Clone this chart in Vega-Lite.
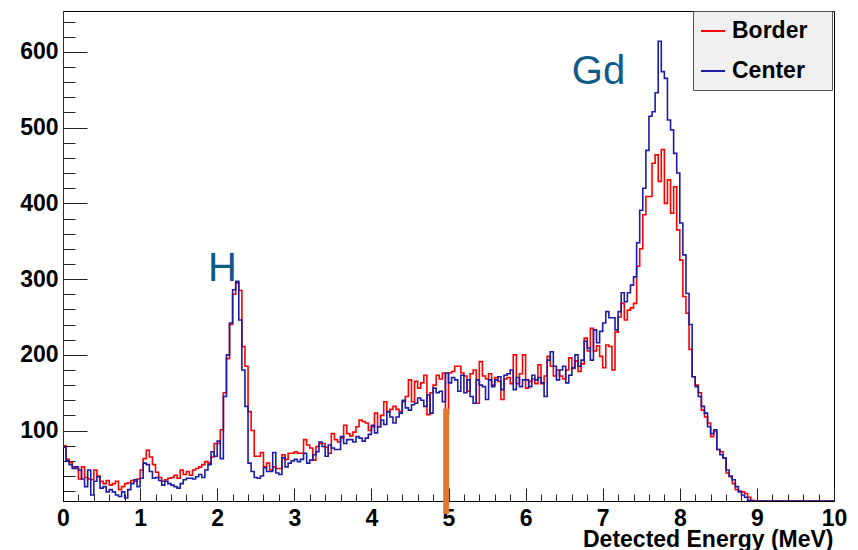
{
"$schema":"https://vega.github.io/schema/vega-lite/v6.json",
"width":771,"height":490,
"autosize":{"type":"none"},
"padding":{"left":63,"top":11,"right":24,"bottom":49},
"background":"#ffffff",
"config":{"view":{"stroke":"#000000","strokeWidth":1},
"axis":{"grid":false,"domainColor":"#000000","domainWidth":1,"tickColor":"#222222","tickWidth":1,"labelFont":"Liberation Sans","labelFontWeight":"bold","labelFontSize":23,"labelColor":"#000000","labelFlush":false}},
"layer":[
{"data":{"values":[
{"x":-0.04,"Border":5000,"Center":5000},{"x":0,"Border":80,"Center":78},{"x":0.04,"Border":62,"Center":60},{"x":0.08,"Border":58,"Center":55},{"x":0.12,"Border":52,"Center":50},{"x":0.16,"Border":50,"Center":52},{"x":0.2,"Border":36,"Center":48},{"x":0.24,"Border":52,"Center":36},{"x":0.28,"Border":38,"Center":26},{"x":0.32,"Border":36,"Center":48},{"x":0.36,"Border":35,"Center":15},{"x":0.4,"Border":48,"Center":33},{"x":0.44,"Border":40,"Center":39},{"x":0.48,"Border":33,"Center":24},{"x":0.52,"Border":30,"Center":26},{"x":0.56,"Border":34,"Center":19},{"x":0.6,"Border":28,"Center":22},{"x":0.64,"Border":30,"Center":19},{"x":0.68,"Border":33,"Center":15},{"x":0.72,"Border":22,"Center":13},{"x":0.76,"Border":26,"Center":19},{"x":0.8,"Border":30,"Center":11},{"x":0.84,"Border":31,"Center":22},{"x":0.88,"Border":34,"Center":30},{"x":0.92,"Border":33,"Center":35},{"x":0.96,"Border":36,"Center":26},
{"x":1,"Border":48,"Center":37},{"x":1.04,"Border":63,"Center":57},{"x":1.08,"Border":74,"Center":55},{"x":1.12,"Border":65,"Center":46},{"x":1.16,"Border":55,"Center":37},{"x":1.2,"Border":45,"Center":38},{"x":1.24,"Border":38,"Center":34},{"x":1.28,"Border":33,"Center":28},{"x":1.32,"Border":35,"Center":33},{"x":1.36,"Border":37,"Center":30},{"x":1.4,"Border":38,"Center":28},{"x":1.44,"Border":41,"Center":26},{"x":1.48,"Border":37,"Center":24},{"x":1.52,"Border":48,"Center":30},{"x":1.56,"Border":42,"Center":35},{"x":1.6,"Border":46,"Center":37},{"x":1.64,"Border":41,"Center":37},{"x":1.68,"Border":48,"Center":36},{"x":1.72,"Border":50,"Center":39},{"x":1.76,"Border":52,"Center":42},{"x":1.8,"Border":55,"Center":38},{"x":1.84,"Border":59,"Center":48},{"x":1.88,"Border":57,"Center":55},{"x":1.92,"Border":65,"Center":72},{"x":1.96,"Border":83,"Center":66},
{"x":2,"Border":83,"Center":86},{"x":2.04,"Border":101,"Center":63},{"x":2.08,"Border":150,"Center":145},{"x":2.12,"Border":195,"Center":200},{"x":2.16,"Border":240,"Center":242},{"x":2.2,"Border":280,"Center":286},{"x":2.24,"Border":295,"Center":297},{"x":2.28,"Border":285,"Center":246},{"x":2.32,"Border":211,"Center":180},{"x":2.36,"Border":185,"Center":132},{"x":2.4,"Border":125,"Center":57},{"x":2.44,"Border":100,"Center":46},{"x":2.48,"Border":66,"Center":38},{"x":2.52,"Border":66,"Center":37},{"x":2.56,"Border":71,"Center":40},{"x":2.6,"Border":52,"Center":51},{"x":2.64,"Border":57,"Center":46},{"x":2.68,"Border":48,"Center":46},{"x":2.72,"Border":52,"Center":71},{"x":2.76,"Border":50,"Center":44},{"x":2.8,"Border":50,"Center":42},{"x":2.84,"Border":68,"Center":64},{"x":2.88,"Border":62,"Center":52},{"x":2.92,"Border":70,"Center":57},{"x":2.96,"Border":70,"Center":60},
{"x":3,"Border":72,"Center":62},{"x":3.04,"Border":70,"Center":59},{"x":3.08,"Border":70,"Center":62},{"x":3.12,"Border":88,"Center":70},{"x":3.16,"Border":81,"Center":57},{"x":3.2,"Border":77,"Center":61},{"x":3.24,"Border":61,"Center":68},{"x":3.28,"Border":79,"Center":72},{"x":3.32,"Border":83,"Center":85},{"x":3.36,"Border":83,"Center":79},{"x":3.4,"Border":78,"Center":66},{"x":3.44,"Border":70,"Center":81},{"x":3.48,"Border":96,"Center":77},{"x":3.52,"Border":88,"Center":75},{"x":3.56,"Border":85,"Center":75},{"x":3.6,"Border":90,"Center":92},{"x":3.64,"Border":107,"Center":83},{"x":3.68,"Border":96,"Center":88},{"x":3.72,"Border":93,"Center":88},{"x":3.76,"Border":98,"Center":85},{"x":3.8,"Border":105,"Center":92},{"x":3.84,"Border":114,"Center":90},{"x":3.88,"Border":112,"Center":86},{"x":3.92,"Border":110,"Center":90},{"x":3.96,"Border":100,"Center":95},
{"x":4,"Border":105,"Center":107},{"x":4.04,"Border":123,"Center":97},{"x":4.08,"Border":105,"Center":105},{"x":4.12,"Border":120,"Center":114},{"x":4.16,"Border":138,"Center":108},{"x":4.2,"Border":125,"Center":125},{"x":4.24,"Border":128,"Center":118},{"x":4.28,"Border":132,"Center":110},{"x":4.32,"Border":128,"Center":118},{"x":4.36,"Border":125,"Center":123},{"x":4.4,"Border":138,"Center":140},{"x":4.44,"Border":145,"Center":130},{"x":4.48,"Border":167,"Center":127},{"x":4.52,"Border":138,"Center":134},{"x":4.56,"Border":165,"Center":136},{"x":4.6,"Border":156,"Center":143},{"x":4.64,"Border":163,"Center":140},{"x":4.68,"Border":173,"Center":132},{"x":4.72,"Border":121,"Center":147},{"x":4.76,"Border":150,"Center":123},{"x":4.8,"Border":160,"Center":156},{"x":4.84,"Border":173,"Center":150},{"x":4.88,"Border":168,"Center":152},{"x":4.92,"Border":176,"Center":138},{"x":4.96,"Border":123,"Center":176},
{"x":5,"Border":176,"Center":163},{"x":5.04,"Border":178,"Center":170},{"x":5.08,"Border":185,"Center":167},{"x":5.12,"Border":185,"Center":152},{"x":5.16,"Border":176,"Center":173},{"x":5.2,"Border":172,"Center":150},{"x":5.24,"Border":152,"Center":167},{"x":5.28,"Border":175,"Center":145},{"x":5.32,"Border":180,"Center":136},{"x":5.36,"Border":136,"Center":167},{"x":5.4,"Border":191,"Center":160},{"x":5.44,"Border":172,"Center":158},{"x":5.48,"Border":168,"Center":141},{"x":5.52,"Border":175,"Center":167},{"x":5.56,"Border":160,"Center":158},{"x":5.6,"Border":170,"Center":167},{"x":5.64,"Border":165,"Center":171},{"x":5.68,"Border":141,"Center":154},{"x":5.72,"Border":168,"Center":173},{"x":5.76,"Border":170,"Center":175},{"x":5.8,"Border":162,"Center":180},{"x":5.84,"Border":200,"Center":154},{"x":5.88,"Border":162,"Center":170},{"x":5.92,"Border":175,"Center":158},{"x":5.96,"Border":200,"Center":167},
{"x":6,"Border":156,"Center":167},{"x":6.04,"Border":165,"Center":158},{"x":6.08,"Border":168,"Center":173},{"x":6.12,"Border":162,"Center":167},{"x":6.16,"Border":187,"Center":170},{"x":6.2,"Border":162,"Center":163},{"x":6.24,"Border":172,"Center":145},{"x":6.28,"Border":198,"Center":193},{"x":6.32,"Border":185,"Center":204},{"x":6.36,"Border":172,"Center":185},{"x":6.4,"Border":180,"Center":167},{"x":6.44,"Border":172,"Center":180},{"x":6.48,"Border":168,"Center":185},{"x":6.52,"Border":180,"Center":163},{"x":6.56,"Border":196,"Center":173},{"x":6.6,"Border":182,"Center":183},{"x":6.64,"Border":192,"Center":200},{"x":6.68,"Border":178,"Center":185},{"x":6.72,"Border":188,"Center":193},{"x":6.76,"Border":222,"Center":218},{"x":6.8,"Border":205,"Center":209},{"x":6.84,"Border":235,"Center":193},{"x":6.88,"Border":205,"Center":233},{"x":6.92,"Border":212,"Center":216},{"x":6.96,"Border":198,"Center":231},
{"x":7,"Border":183,"Center":242},{"x":7.04,"Border":213,"Center":257},{"x":7.08,"Border":211,"Center":249},{"x":7.12,"Border":180,"Center":249},{"x":7.16,"Border":230,"Center":233},{"x":7.2,"Border":250,"Center":257},{"x":7.24,"Border":268,"Center":282},{"x":7.28,"Border":246,"Center":270},{"x":7.32,"Border":259,"Center":282},{"x":7.36,"Border":262,"Center":292},{"x":7.4,"Border":268,"Center":303},{"x":7.44,"Border":317,"Center":348},{"x":7.48,"Border":340,"Center":391},{"x":7.52,"Border":385,"Center":420},{"x":7.56,"Border":409,"Center":470},{"x":7.6,"Border":409,"Center":515},{"x":7.64,"Border":453,"Center":521},{"x":7.68,"Border":464,"Center":546},{"x":7.72,"Border":429,"Center":614},{"x":7.76,"Border":471,"Center":574},{"x":7.8,"Border":400,"Center":565},{"x":7.84,"Border":431,"Center":510},{"x":7.88,"Border":387,"Center":497},{"x":7.92,"Border":422,"Center":466},{"x":7.96,"Border":365,"Center":440},
{"x":8,"Border":325,"Center":374},{"x":8.04,"Border":277,"Center":332},{"x":8.08,"Border":255,"Center":281},{"x":8.12,"Border":207,"Center":240},{"x":8.16,"Border":171,"Center":171},{"x":8.2,"Border":160,"Center":158},{"x":8.24,"Border":150,"Center":145},{"x":8.28,"Border":127,"Center":132},{"x":8.32,"Border":118,"Center":123},{"x":8.36,"Border":110,"Center":105},{"x":8.4,"Border":92,"Center":96},{"x":8.44,"Border":99,"Center":101},{"x":8.48,"Border":75,"Center":75},{"x":8.52,"Border":72,"Center":68},{"x":8.56,"Border":64,"Center":64},{"x":8.6,"Border":44,"Center":48},{"x":8.64,"Border":39,"Center":40},{"x":8.68,"Border":30,"Center":35},{"x":8.72,"Border":22,"Center":26},{"x":8.76,"Border":20,"Center":19},{"x":8.8,"Border":19,"Center":15},{"x":8.84,"Border":17,"Center":12},{"x":8.88,"Border":12,"Center":8},{"x":8.92,"Border":8,"Center":4},{"x":8.96,"Border":4,"Center":1},
{"x":9,"Border":0,"Center":0},{"x":9.04,"Border":0,"Center":0},{"x":9.08,"Border":0,"Center":0},{"x":9.12,"Border":0,"Center":0},{"x":9.16,"Border":0,"Center":0},{"x":9.2,"Border":0,"Center":0},{"x":9.24,"Border":0,"Center":0},{"x":9.28,"Border":0,"Center":0},{"x":9.32,"Border":0,"Center":0},{"x":9.36,"Border":0,"Center":0},{"x":9.4,"Border":0,"Center":0},{"x":9.44,"Border":0,"Center":0},{"x":9.48,"Border":0,"Center":0},{"x":9.52,"Border":0,"Center":0},{"x":9.56,"Border":0,"Center":0},{"x":9.6,"Border":0,"Center":0},{"x":9.64,"Border":0,"Center":0},{"x":9.68,"Border":0,"Center":0},{"x":9.72,"Border":0,"Center":0},{"x":9.76,"Border":0,"Center":0},{"x":9.8,"Border":0,"Center":0},{"x":9.84,"Border":0,"Center":0},{"x":9.88,"Border":0,"Center":0},{"x":9.92,"Border":0,"Center":0},{"x":9.96,"Border":0,"Center":0},{"x":10,"Border":0,"Center":0}
]},
"transform":[{"fold":["Border","Center"],"as":["series","count"]}],
"mark":{"type":"line","interpolate":"step-after","strokeWidth":1.6,"clip":true},
"encoding":{
"x":{"field":"x","type":"quantitative","scale":{"domain":[0,10],"nice":false,"zero":false},
"axis":{"orient":"bottom","values":[0,1,2,3,4,5,6,7,8,9,10],"tickSize":-13,"labelPadding":19,"title":"Detected Energy (MeV)","titleFont":"Liberation Sans","titleFontWeight":"bold","titleFontSize":23,"titleColor":"#000000","titleAlign":"right","titleAnchor":"end","titleBaseline":"alphabetic","titleX":770,"titleY":45}},
"y":{"field":"count","type":"quantitative","scale":{"domain":[7,654],"nice":false,"zero":false,"clamp":true},
"axis":{"orient":"left","values":[100,200,300,400,500,600],"tickSize":-24,"labelPadding":29,"title":null}},
"color":{"field":"series","type":"nominal","scale":{"domain":["Border","Center"],"range":["#ff0000","#1c1ca6"]},
"legend":{"title":null,"orient":"none","legendX":630,"legendY":0,"fillColor":"#f0f0f0","strokeColor":"#555555","padding":7,"symbolType":"stroke","symbolSize":576,"symbolStrokeWidth":2,"labelFont":"Liberation Sans","labelFontWeight":"bold","labelFontSize":23,"labelColor":"#000000","labelOffset":6,"rowPadding":15,"labelExpr":"datum.label + '\u2800'"}}
}},
{"data":{"values":[{"x":1.88,"y":298,"label":"H"},{"x":6.6,"y":558,"label":"Gd"}]},
"mark":{"type":"text","align":"left","baseline":"alphabetic","font":"Liberation Sans","fontSize":40,"color":"#0e5a8a"},
"encoding":{
"x":{"field":"x","type":"quantitative","scale":{"domain":[0,10],"nice":false,"zero":false},
"axis":{"orient":"bottom","values":[0,0.2,0.4,0.6,0.8,1,1.2,1.4,1.6,1.8,2,2.2,2.4,2.6,2.8,3,3.2,3.4,3.6,3.8,4,4.2,4.4,4.6,4.8,5,5.2,5.4,5.6,5.8,6,6.2,6.4,6.6,6.8,7,7.2,7.4,7.6,7.8,8,8.2,8.4,8.6,8.8,9,9.2,9.4,9.6,9.8,10],"tickSize":-7,"labels":false,"domain":false,"title":null}},
"y":{"field":"y","type":"quantitative","scale":{"domain":[7,654],"nice":false,"zero":false},
"axis":{"orient":"left","values":[20,40,60,80,100,120,140,160,180,200,220,240,260,280,300,320,340,360,380,400,420,440,460,480,500,520,540,560,580,600,620,640],"tickSize":-12,"labels":false,"domain":false,"title":null}},
"text":{"field":"label","type":"nominal"}
}},
{"data":{"values":[{"x":4.97,"y":-10,"y2":129}]},
"mark":{"type":"rule","color":"#e2782f","strokeWidth":6,"clip":false},
"encoding":{
"x":{"field":"x","type":"quantitative","scale":{"domain":[0,10],"nice":false,"zero":false},"axis":null},
"y":{"field":"y","type":"quantitative","scale":{"domain":[7,654],"nice":false,"zero":false},"axis":null},
"y2":{"field":"y2"}
}}
],
"resolve":{"scale":{"y":"independent"},"axis":{"x":"independent","y":"independent"}}
}
